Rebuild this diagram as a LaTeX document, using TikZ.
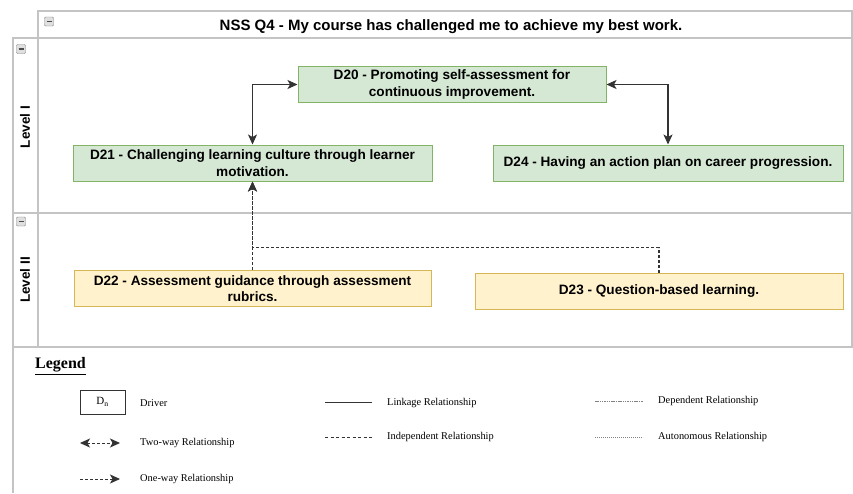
\documentclass[tikz,border=0pt]{standalone}
\usepackage{fontspec}
\setmainfont{Liberation Serif}
\newfontfamily\diagfont{Liberation Sans}
\usepackage{xcolor}
\usepackage{tikz}
\usetikzlibrary{arrows.meta, positioning}

\definecolor{greenfill}{HTML}{D5E8D4}
\definecolor{greenline}{HTML}{82B366}
\definecolor{yellowfill}{HTML}{FFF2CC}
\definecolor{yellowline}{HTML}{D6B656}
\definecolor{framegray}{HTML}{C4C4C4}
\definecolor{linkgray}{HTML}{333333}

\tikzstyle{lane} = [draw=framegray, line width=1.2pt]
\tikzstyle{lanelabel} = [rotate=90, font=\diagfont\bfseries\fontsize{13.5}{15}\selectfont]
\tikzstyle{collapsebox} = [rectangle, rounded corners=1pt, draw=gray, fill=gray!25, minimum size=9pt, inner sep=0pt,
  path picture={\draw[line width=1.5pt, black!70] ([xshift=2pt]path picture bounding box.west) -- ([xshift=-2pt]path picture bounding box.east);}]
\tikzstyle{levelone} = [rectangle, draw=greenline, fill=greenfill, line width=1pt, align=center, inner sep=0pt,
  font=\diagfont\bfseries\fontsize{13.6}{16.5}\selectfont, minimum height=36pt]
\tikzstyle{leveltwo} = [levelone, draw=yellowline, fill=yellowfill]
\tikzstyle{twoway} = [draw=linkgray, line width=1.1pt, {Stealth[length=10pt,width=9pt,inset=2.5pt]}-{Stealth[length=10pt,width=9pt,inset=2.5pt]}]
\tikzstyle{oneway} = [draw=linkgray, line width=1.1pt, dash pattern=on 3pt off 2pt, -{Stealth[length=10pt,width=9pt,inset=2.5pt]}]
\tikzstyle{legendtext} = [anchor=west, font=\fontsize{10.4}{12}\selectfont, inner sep=0pt]
\tikzstyle{legendline} = [draw=linkgray, line width=0.9pt]

\begin{document}
\begin{tikzpicture}[x=1pt, y=-1pt]
    \useasboundingbox (0,0) rectangle (853,493);

    % frame and lanes
    \draw [lane] (38,11) rectangle (852,38);
    \draw [lane] (13,38) rectangle (852,213);
    \draw [lane] (13,213) rectangle (852,347);
    \draw [lane] (38,38) -- (38,347);
    \draw [lane] (13,347) -- (13,493);
    \draw [draw=framegray, line width=2pt] (13,347) -- (853,347);

    \node (title) [font=\diagfont\bfseries\fontsize{15}{17}\selectfont] at (451,26.5) {NSS Q4 - My course has challenged me to achieve my best work.};
    \node (lvlone) [lanelabel] at (25,127) {Level I};
    \node (lvltwo) [lanelabel] at (25,280) {Level II};
    \node (cbtitle) [collapsebox] at (49,21.5) {};
    \node (cbone) [collapsebox] at (21,49) {};
    \node (cbtwo) [collapsebox] at (21,221.5) {};

    % drivers
    \node (d20) [levelone, minimum width=308pt] at (452,84.5) {D20 - Promoting self-assessment for\\continuous improvement.};
    \node (d21) [levelone, minimum width=359pt] at (252.5,163) {D21 - Challenging learning culture through learner\\motivation.};
    \node (d24) [levelone, minimum width=350pt] at (668,163) {D24 - Having an action plan on career progression.};
    \node (d22) [leveltwo, minimum width=357pt] at (252.5,288.5) {D22 - Assessment guidance through assessment\\rubrics.};
    \node (d23) [leveltwo, minimum width=368pt] at (659,291) {D23 - Question-based learning.};

    \draw [twoway] (d21.north) |- (d20.west);
    \draw [twoway] (d20.east) -| (d24.north);
    \draw [oneway] (d22.north) -- (d21.south);
    \draw [oneway] (d23.north) -- ++(0,-25) -| (d21.south);

    % legend
    \node (legend) [anchor=west, inner sep=0pt, font=\bfseries\fontsize{16}{18}\selectfont] at (35,366) {\underline{Legend}};
    \node (drv) [draw=black!80, line width=1pt, minimum width=45pt, minimum height=24pt, inner sep=0pt, font=\fontsize{11}{12}\selectfont] at (102.5,402) {D\textsubscript{n}};
    \node (drvtext) [legendtext] at (140,403) {Driver};

    \coordinate (twoa) at (80,443);
    \coordinate (twob) at (120,443);
    \draw [twoway, line width=0.9pt, dash pattern=on 3pt off 2pt] (twoa) -- (twob);
    \node (twotext) [legendtext] at (140,443) {Two-way Relationship};

    \coordinate (onea) at (80,479);
    \coordinate (oneb) at (120,479);
    \draw [oneway, line width=0.9pt] (onea) -- (oneb);
    \node (onetext) [legendtext] at (140,479) {One-way Relationship};

    \coordinate (linka) at (325,402);
    \coordinate (linkb) at (372,402);
    \draw [legendline] (linka) -- (linkb);
    \node (linktext) [legendtext] at (387,403) {Linkage Relationship};

    \coordinate (indepa) at (325,437);
    \coordinate (indepb) at (372,437);
    \draw [legendline, line width=0.7pt, dash pattern=on 3pt off 2.5pt] (indepa) -- (indepb);
    \node (indeptext) [legendtext] at (387,437) {Independent Relationship};

    \coordinate (depa) at (595,401);
    \coordinate (depb) at (643,401);
    \draw [draw=gray, line width=0.6pt, dash pattern=on 1.5pt off 0.8pt] (depa) -- (depb);
    \node (deptext) [legendtext] at (658,401) {Dependent Relationship};

    \coordinate (autoa) at (595,437);
    \coordinate (autob) at (643,437);
    \draw [draw=gray, line width=0.6pt, dash pattern=on 0.8pt off 1.2pt] (autoa) -- (autob);
    \node (autotext) [legendtext] at (658,437) {Autonomous Relationship};
\end{tikzpicture}
\end{document}
